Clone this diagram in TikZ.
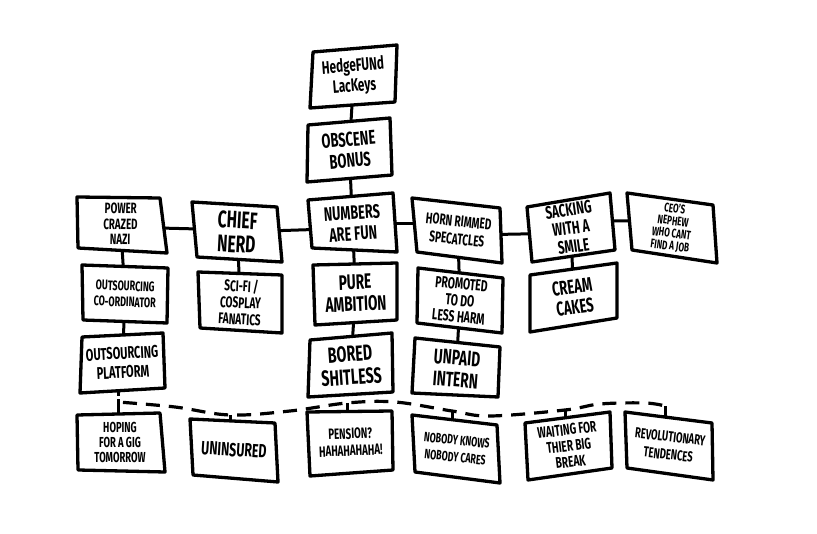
\documentclass[tikz,border=0pt]{standalone}
\usepackage{fontspec}
\setmainfont{Fira Sans}[FakeStretch=0.65]
\usetikzlibrary{backgrounds,calc}
\begin{document}
\begin{tikzpicture}[x=1pt,y=-1pt,
  card/.style={draw=black, fill=white, line width=3.3pt, line join=round},
  lbl/.style 2 args={align=center, inner sep=0pt, font=\bfseries\fontsize{#1}{#2}\selectfont},
  link/.style={draw=black, line width=3pt},
  dashlink/.style={draw=black, line width=3.2pt, dash pattern=on 14pt off 9pt, dash phase=18pt}]
\useasboundingbox (0,0) rectangle (817,534);

% cards
\filldraw[card] (77,197) -- (160,198) -- (167,253) -- (78,248) -- cycle;
\filldraw[card] (192,202) -- (277,207) -- (282,262) -- (197,257) -- cycle;
\filldraw[card] (82,265) -- (168,268) -- (167,323) -- (83,320) -- cycle;
\filldraw[card] (198,272) -- (282,275) -- (282,333) -- (200,328) -- cycle;
\filldraw[card] (82,337) -- (163,333) -- (165,388) -- (80,393) -- cycle;
\filldraw[card] (313,52) -- (397,45) -- (395,102) -- (310,108) -- cycle;
\filldraw[card] (308,125) -- (390,118) -- (392,175) -- (307,182) -- cycle;
\filldraw[card] (308,200) -- (393,193) -- (397,252) -- (312,248) -- cycle;
\filldraw[card] (313,265) -- (397,263) -- (397,320) -- (315,325) -- cycle;
\filldraw[card] (310,340) -- (392,333) -- (393,392) -- (308,397) -- cycle;
\filldraw[card] (412,198) -- (500,208) -- (502,263) -- (417,252) -- cycle;
\filldraw[card] (418,268) -- (503,278) -- (502,333) -- (417,323) -- cycle;
\filldraw[card] (415,338) -- (500,347) -- (498,397) -- (412,393) -- cycle;
\filldraw[card] (527,207) -- (610,193) -- (615,250) -- (532,262) -- cycle;
\filldraw[card] (627,193) -- (713,205) -- (717,263) -- (632,250) -- cycle;
\filldraw[card] (530,275) -- (617,263) -- (617,318) -- (530,332) -- cycle;
\filldraw[card] (77,415) -- (160,413) -- (165,472) -- (78,470) -- cycle;
\filldraw[card] (190,419) -- (275,423) -- (278,482) -- (193,475) -- cycle;
\filldraw[card] (307,412) -- (392,411) -- (393,470) -- (310,476) -- cycle;
\filldraw[card] (412,415) -- (497,425) -- (500,483) -- (415,472) -- cycle;
\filldraw[card] (525,423) -- (610,412) -- (612,468) -- (528,480) -- cycle;
\filldraw[card] (625,412) -- (712,423) -- (713,480) -- (627,468) -- cycle;

% labels
\node[lbl={15}{15.5}, rotate=-1] (power) at (120.5,224) {POWER\\CRAZED\\NAZI};
\node[lbl={24}{24}, rotate=-3] (chief) at (237,232) {CHIEF\\NERD};
\node[lbl={13.8}{16}, rotate=-2] (outco) at (125,294) {OUTSOURCING\\CO-ORDINATOR};
\node[lbl={15.5}{16.5}, rotate=-3] (scifi) at (240.5,302) {SCI-FI /\\COSPLAY\\FANATICS};
\node[lbl={17}{19}, rotate=3] (platform) at (122.5,362.75) {OUTSOURCING\\PLATFORM};
\node[lbl={18}{20}, rotate=4.5] (hedge) at (353.75,76.75) {HedgeFUNd\\LacKeys};
\node[lbl={20}{21}, rotate=4.8] (obscene) at (349.25,150) {OBSCENE\\BONUS};
\node[lbl={19.5}{21}, rotate=3.7] (numbers) at (352.5,223.25) {NUMBERS\\ARE FUN};
\node[lbl={21}{22}, rotate=2.4] (pure) at (355.5,293.25) {PURE\\AMBITION};
\node[lbl={22}{23}, rotate=4] (bored) at (350.75,365.5) {BORED\\SHITLESS};
\node[lbl={15.5}{18}, rotate=-6] (horn) at (457.75,230.25) {HORN RIMMED\\SPECATCLES};
\node[lbl={16}{16.5}, rotate=-5.5] (promoted) at (460,300.5) {PROMOTED\\TO DO\\LESS HARM};
\node[lbl={21}{22}, rotate=-4.5] (unpaid) at (456.25,368.75) {UNPAID\\INTERN};
\node[lbl={18}{18.5}, rotate=8] (sacking) at (571,228) {SACKING\\WITH A\\SMILE};
\node[lbl={12.5}{12.5}, rotate=-7.5] (ceo) at (672.25,227.75) {CEO'S\\NEPHEW\\WHO CANT\\FIND A JOB};
\node[lbl={20}{21}, rotate=8] (cream) at (573.5,297) {CREAM\\CAKES};
\node[lbl={14.5}{15}, rotate=0] (hoping) at (120,442.5) {HOPING\\FOR A GIG\\TOMORROW};
\node[lbl={19}{19}, rotate=-3.7] (unins) at (234,449.75) {UNINSURED};
\node[lbl={15}{17}, rotate=2.3] (pension) at (350.5,442.25) {PENSION?\\HAHAHAHAHA!};
\node[lbl={13.5}{17}, rotate=-6] (nobody) at (456,448.75) {NOBODY KNOWS\\NOBODY CARES};
\node[lbl={15.5}{16}, rotate=7] (waiting) at (568.75,445.75) {WAITING FOR\\THIER BIG\\BREAK};
\node[lbl={14.5}{18}, rotate=-6.5] (revol) at (669.25,445.75) {REVOLUTIONARY\\TENDENCES};

% points on the dashed line
\coordinate (j0) at (118,402);
\coordinate (t1) at (230,415);
\coordinate (t2) at (347,403);
\coordinate (t3) at (452,411);
\coordinate (t4) at (565,410);
\coordinate (t5) at (665,406);

\begin{pgfonlayer}{background}
\fill[white] (0,0) rectangle (817,534);
% connectors
\draw[link] (hedge) -- (obscene);
\draw[link] (obscene) -- (numbers);
\draw[link] (numbers) -- (pure);
\draw[link] (pure) -- (bored);
\draw[link] (power) -- (outco);
\draw[link] (outco) -- (platform);
\draw[link] (chief) -- (scifi);
\draw[link] (horn) -- (promoted);
\draw[link] (promoted) -- (unpaid);
\draw[link] (sacking) -- (cream);
\draw[link] ([yshift=-3pt]power.center) -- ([yshift=2pt]chief.center);
\draw[link] (chief.center) -- ([yshift=-5pt]numbers.center);
\draw[link] (numbers.center) -- ([yshift=7pt]horn.center);
\draw[link] ([yshift=-5pt]horn.center) -- ([yshift=-5pt]sacking.center);
\draw[link] ([yshift=7pt]sacking.center) -- ([yshift=7pt]ceo.center);
% dashed line and ticks
\draw[link, dash pattern=on 3pt off 3pt on 60pt off 1pt] (j0) -- (j0 |- platform);
\draw[link] (j0) -- (j0 |- hoping);
\draw[dashlink] plot[smooth, tension=0.6] coordinates {(j0) (175,407) (t1) (290,411) (t2) (395,402) (t3) (490,416) (t4) (600,404) (645,403) (t5)};
\draw[link] (t1) -- (t1 |- unins);
\draw[link] (t2) -- (t2 |- pension);
\draw[link] (t3) -- (t3 |- nobody);
\draw[link] (t4) -- (t4 |- waiting);
\draw[link] (t5) -- (t5 |- revol);
\end{pgfonlayer}
\end{tikzpicture}
\end{document}
